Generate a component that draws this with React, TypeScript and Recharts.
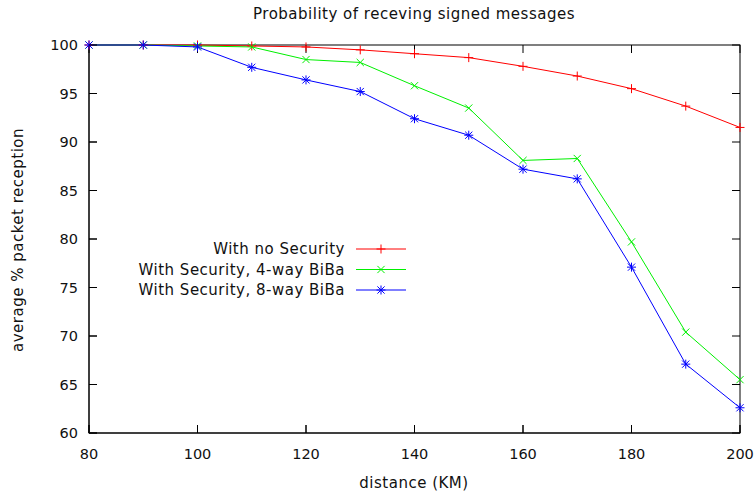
import React from "react";
import { LineChart, Line, XAxis, YAxis } from "recharts";

const distance = [80, 90, 100, 110, 120, 130, 140, 150, 160, 170, 180, 190, 200];
const noSecurity = [100, 100, 100, 99.9, 99.8, 99.5, 99.1, 98.7, 97.8, 96.8, 95.5, 93.7, 91.5];
const biba4 = [100, 100, 99.9, 99.8, 98.5, 98.2, 95.8, 93.5, 88.1, 88.3, 79.7, 70.4, 65.5];
const biba8 = [100, 100, 99.8, 97.7, 96.4, 95.2, 92.4, 90.7, 87.2, 86.2, 77.1, 67.1, 62.6];
const xTicks = [80, 100, 120, 140, 160, 180, 200];
const yTicks = [60, 65, 70, 75, 80, 85, 90, 95, 100];
const xDomain = [80, 200];
const yDomain = [60, 100];
const seriesNames = ["With no Security", "With Security, 4-way BiBa", "With Security, 8-way BiBa"];
const seriesKeys = ["none", "b4", "b8"];
const seriesColors = ["#ff0000", "#00f000", "#0000ff"];
const seriesMarkers = ["plus", "cross", "star"];

const data = distance.map((d, i) => ({
  distance: d,
  none: noSecurity[i],
  b4: biba4[i],
  b8: biba8[i],
}));

// layout
const W = 756;
const H = 492;
const M_TOP = 45;
const M_RIGHT = 16;
const Y_AXIS_W = 89;
const X_AXIS_H = 59;
const PLOT_W = W - Y_AXIS_W - M_RIGHT;
const PLOT_H = H - M_TOP - X_AXIS_H;
const TICK = 8;

const FONT = "'DejaVu Sans', sans-serif";
const TXT = "#111";
const S = 4.5;

function Marker({ kind, cx, cy, color }: any) {
  const plus = (
    <>
      <line x1={cx - S} x2={cx + S} y1={cy} y2={cy} stroke={color} strokeWidth={1} />
      <line x1={cx} x2={cx} y1={cy - S} y2={cy + S} stroke={color} strokeWidth={1} />
    </>
  );
  const c = S * 0.8;
  const cross = (
    <>
      <line x1={cx - c} x2={cx + c} y1={cy - c} y2={cy + c} stroke={color} strokeWidth={1} />
      <line x1={cx - c} x2={cx + c} y1={cy + c} y2={cy - c} stroke={color} strokeWidth={1} />
    </>
  );
  return (
    <g>
      {kind !== "cross" && plus}
      {kind !== "plus" && cross}
    </g>
  );
}

const makeDot = (kind: string, color: string) => (props: any) =>
  props.cx == null ? <g key={props.index} /> : (
    <Marker key={props.index} kind={kind} cx={props.cx} cy={props.cy} color={color} />
  );

const XBottomTick = ({ x, y, payload }: any) => (
  <g>
    <line x1={x} x2={x} y1={y} y2={y - TICK} stroke="#000" strokeWidth={1} />
    <text x={x} y={y + 26} textAnchor="middle" fontFamily={FONT} fontSize={14.5} fill={TXT}>
      {payload.value}
    </text>
  </g>
);
const YLeftTick = ({ x, y, payload }: any) => (
  <g>
    <line x1={x} x2={x + TICK} y1={y} y2={y} stroke="#000" strokeWidth={1} />
    <text x={x - 11} y={y} dy="0.36em" textAnchor="end" fontFamily={FONT} fontSize={14.5} fill={TXT}>
      {payload.value}
    </text>
  </g>
);

// frame position of a tick value along the plot edges (same linear mapping as the axes)
const xAt = (v: number) => Y_AXIS_W + ((v - xDomain[0]) / (xDomain[1] - xDomain[0])) * PLOT_W;
const yAt = (v: number) => M_TOP + ((yDomain[1] - v) / (yDomain[1] - yDomain[0])) * PLOT_H;

export default function App() {
  return (
    <div style={{ position: "absolute", left: 0, top: 0, width: W, height: H, background: "#fff" }}>
      <svg width={W} height={H} style={{ position: "absolute", left: 0, top: 0 }}>
        <text x={414} y={19} textAnchor="middle" fontFamily={FONT} fontSize={15} letterSpacing={0.5} fill={TXT}>
          Probability of receving signed messages
        </text>
        <text x={414} y={488} textAnchor="middle" fontFamily={FONT} fontSize={15} letterSpacing={0.5} fill={TXT}>
          distance (KM)
        </text>
        <text
          x={18}
          y={240}
          transform="rotate(-90 18 240)"
          textAnchor="middle"
          dominantBaseline="central"
          fontFamily={FONT}
          fontSize={15}
          letterSpacing={0.5}
          fill={TXT}
        >
          average % packet reception
        </text>
        {seriesNames.map((name, i) => {
          const cy = 249 + i * 20.5;
          return (
            <g key={name}>
              <text x={345} y={cy} dy="0.36em" textAnchor="end" fontFamily={FONT} fontSize={15} letterSpacing={0.5} fill={TXT}>
                {name}
              </text>
              <line x1={356} x2={406} y1={cy} y2={cy} stroke={seriesColors[i]} strokeWidth={1} />
              <Marker kind={seriesMarkers[i]} cx={381} cy={cy} color={seriesColors[i]} />
            </g>
          );
        })}
        {/* plot frame with mirrored inward ticks on top and right edges */}
        <rect x={Y_AXIS_W} y={M_TOP} width={PLOT_W} height={PLOT_H} fill="none" stroke="#000" strokeWidth={1} />
        {xTicks.map((t) => (
          <g key={"xt" + t}>
            <line x1={xAt(t)} x2={xAt(t)} y1={M_TOP} y2={M_TOP + TICK} stroke="#000" strokeWidth={1} />
            <line x1={xAt(t)} x2={xAt(t)} y1={M_TOP + PLOT_H} y2={M_TOP + PLOT_H - TICK} stroke="#000" strokeWidth={1} />
          </g>
        ))}
        {yTicks.map((t) => (
          <g key={"yt" + t}>
            <line x1={Y_AXIS_W + PLOT_W} x2={Y_AXIS_W + PLOT_W - TICK} y1={yAt(t)} y2={yAt(t)} stroke="#000" strokeWidth={1} />
            <line x1={Y_AXIS_W} x2={Y_AXIS_W + TICK} y1={yAt(t)} y2={yAt(t)} stroke="#000" strokeWidth={1} />
          </g>
        ))}
      </svg>
      <div style={{ position: "absolute", left: 0, top: 0 }}>
        <LineChart
          width={W}
          height={H}
          data={data}
          margin={{ top: M_TOP, right: M_RIGHT, bottom: 0, left: 0 }}
        >
          <XAxis
            dataKey="distance"
            type="number"
            domain={xDomain}
            ticks={xTicks}
            orientation="bottom"
            height={X_AXIS_H}
            tickSize={0}
            tickMargin={0}
            tickLine={false}
            axisLine={{ stroke: "#000" }}
            tick={<XBottomTick />}
            interval={0}
          />
          <YAxis
            type="number"
            domain={yDomain}
            ticks={yTicks}
            orientation="left"
            width={Y_AXIS_W}
            tickSize={0}
            tickMargin={0}
            tickLine={false}
            axisLine={{ stroke: "#000" }}
            tick={<YLeftTick />}
            interval={0}
          />
          {seriesKeys.map((k, i) => (
            <Line
              key={k}
              dataKey={k}
              name={seriesNames[i]}
              stroke={seriesColors[i]}
              strokeWidth={1}
              dot={makeDot(seriesMarkers[i], seriesColors[i])}
              isAnimationActive={false}
            />
          ))}
        </LineChart>
      </div>
    </div>
  );
}
